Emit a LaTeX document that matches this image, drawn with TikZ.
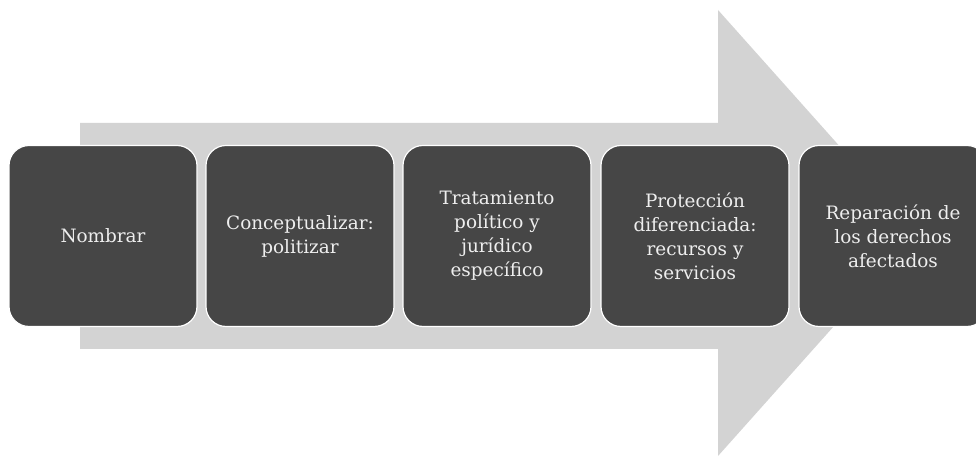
\documentclass[tikz,border=0pt]{standalone}
\usepackage{fontspec}
\setmainfont{DejaVu Serif}
\definecolor{arrowgray}{HTML}{D3D3D3}
\definecolor{boxgray}{HTML}{464646}
\definecolor{txtgray}{HTML}{EEEEEE}
\tikzset{
  stepbox/.style={draw=white, line width=1.2pt, fill=boxgray, rounded corners=20pt,
    minimum width=188pt, minimum height=181pt, text=txtgray, align=center,
    font=\fontsize{18.4}{24}\selectfont, inner sep=0pt},
  bigarrow/.style={fill=arrowgray, draw=none}
}
\begin{document}
\begin{tikzpicture}[x=1pt,y=1pt]
\useasboundingbox (0,0) rectangle (976,457);
\clip (0,0) rectangle (976,457);
\fill[white] (0,0) rectangle (976,457);
\fill[bigarrow] (80,334) -- (718,334) -- (718,447) -- (917,224) -- (718,1) -- (718,108) -- (80,108) -- cycle;
\node[stepbox] (n1) at (103,221) {Nombrar};
\node[stepbox] (n2) at (300,221) {Conceptualizar:\\politizar};
\node[stepbox] (n3) at (497,221) {Tratamiento\\político y\\jurídico\\específico};
\node[stepbox] (n4) at (695,221) {Protección\\diferenciada:\\recursos y\\servicios};
\node[stepbox] (n5) at (893,221) {Reparación de\\los derechos\\afectados};
\end{tikzpicture}
\end{document}
